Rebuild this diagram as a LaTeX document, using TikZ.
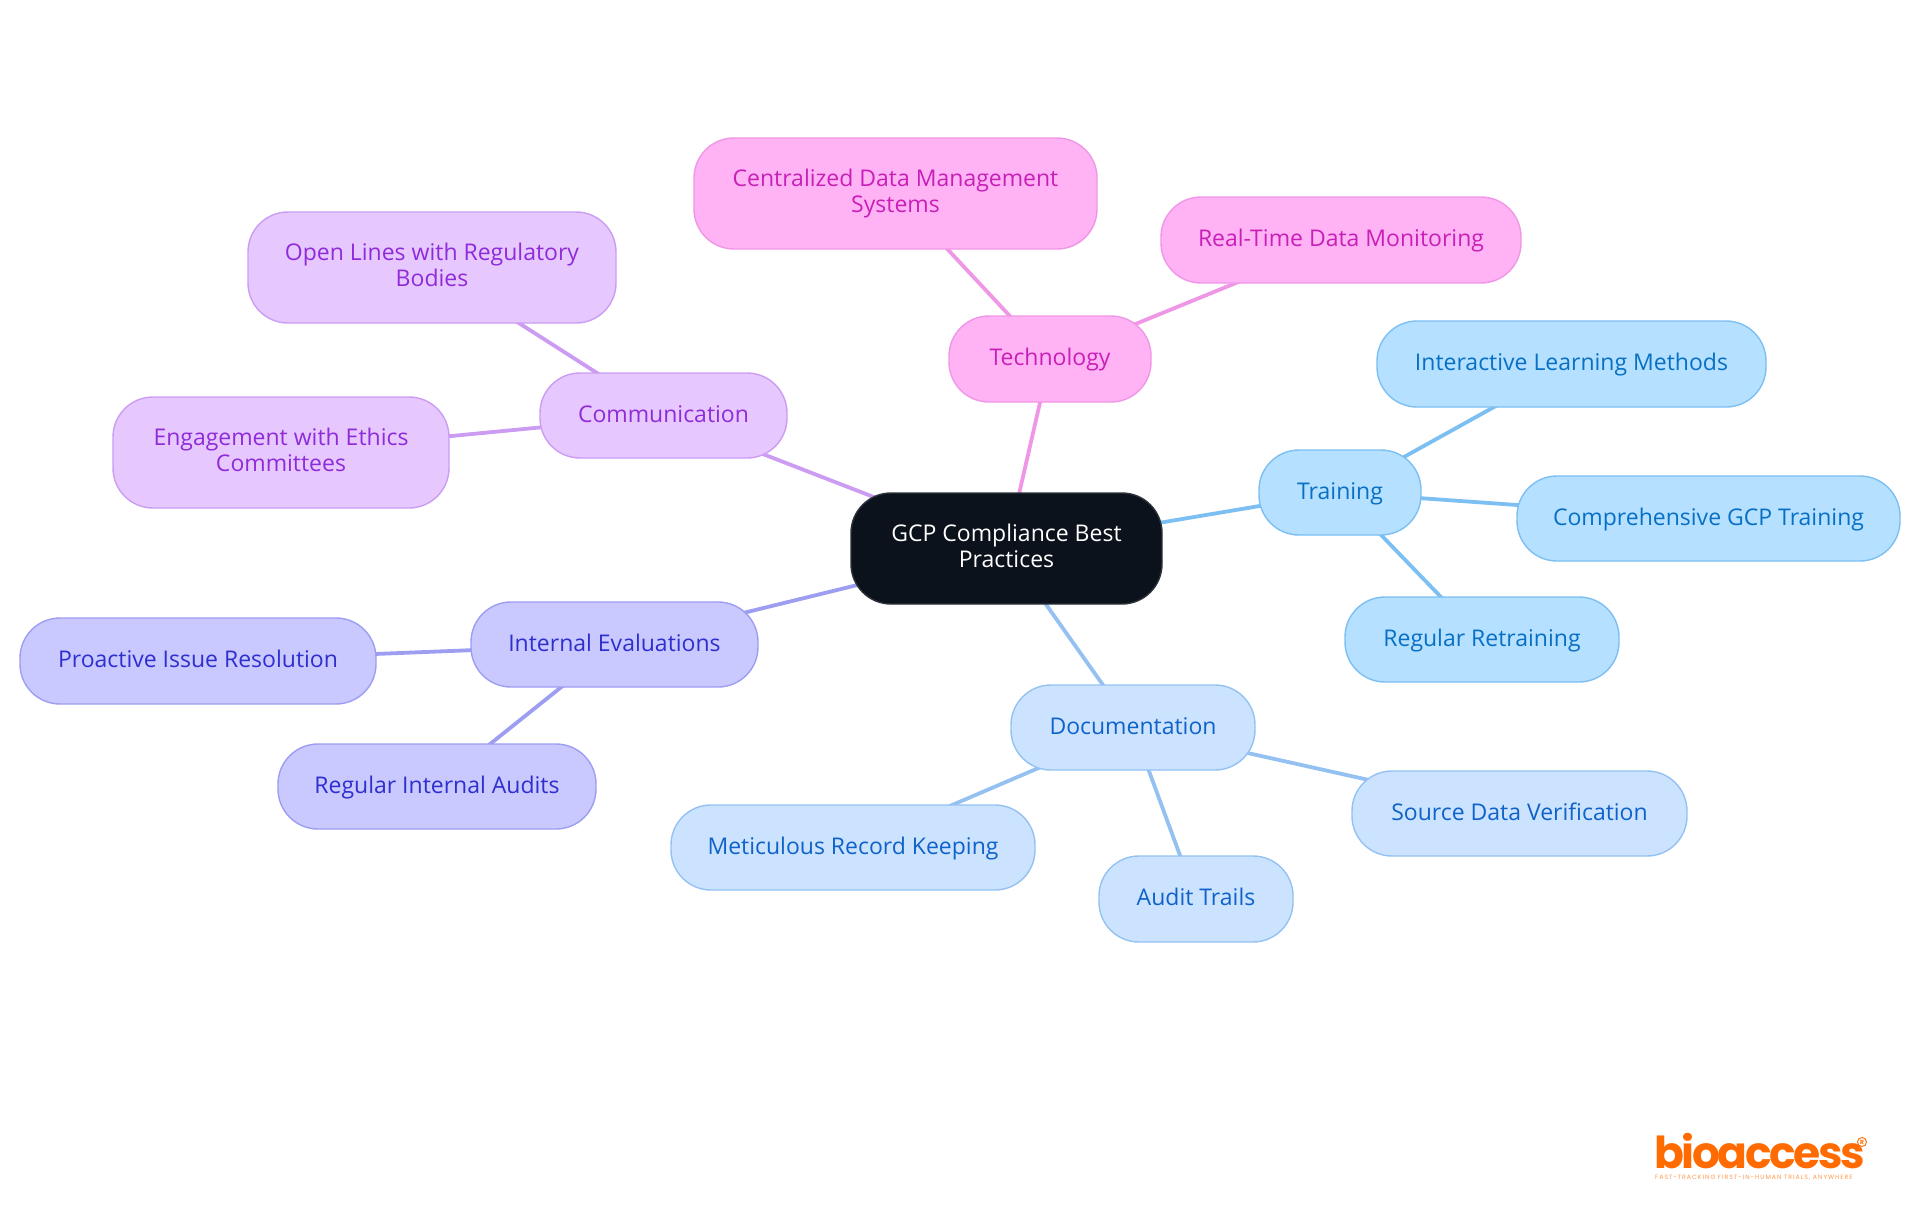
\documentclass[tikz,border=0pt]{standalone}
\usepackage{fontspec}
\usetikzlibrary{backgrounds}
\setmainfont{Open Sans}
\newfontfamily\logofont{Poppins}[UprightFont=* Bold,LetterSpace=-5.5]
\newfontfamily\regfont{Poppins}[UprightFont=* Bold]
\newfontfamily\tagfont{Poppins}[LetterSpace=16]
\definecolor{rootfill}{HTML}{0B121B}\definecolor{rootline}{HTML}{2D333B}
\definecolor{techfill}{HTML}{FFB3F5}\definecolor{techline}{HTML}{F096E6}\definecolor{techtext}{HTML}{C81FB8}
\definecolor{commfill}{HTML}{E6C8FF}\definecolor{commline}{HTML}{CB9CF2}\definecolor{commtext}{HTML}{8F2BD9}
\definecolor{evalfill}{HTML}{C9C9FF}\definecolor{evalline}{HTML}{9D9DF2}\definecolor{evaltext}{HTML}{2F2FCF}
\definecolor{docsfill}{HTML}{CCE3FF}\definecolor{docsline}{HTML}{94C1F2}\definecolor{docstext}{HTML}{0F62C9}
\definecolor{trainfill}{HTML}{B5E0FF}\definecolor{trainline}{HTML}{7CBFF2}\definecolor{traintext}{HTML}{0870C4}
\definecolor{logoorange}{HTML}{FF6B00}
\tikzset{
  mm/.style={rectangle,rounded corners=40,inner sep=0,outer sep=0,line width=1.4,
    font=\fontsize{23}{25.5}\selectfont},
  rootn/.style={mm,fill=rootfill,draw=rootline,text=white},
  technode/.style={mm,fill=techfill,draw=techline,text=techtext},
  commnode/.style={mm,fill=commfill,draw=commline,text=commtext},
  evalnode/.style={mm,fill=evalfill,draw=evalline,text=evaltext},
  docsnode/.style={mm,fill=docsfill,draw=docsline,text=docstext},
  trainnode/.style={mm,fill=trainfill,draw=trainline,text=traintext},
  edge/.style={line width=3.8},
}
\newcommand{\mmbox}[7]{\node[#1,minimum width={#5-#3},minimum height={#6-#4}] (#2) at ({(#3+#5)/2},{(#4+#6)/2}) {\raisebox{-6.5pt}[0pt][0pt]{#7}};}
\newcommand{\twol}[2]{\raisebox{-0.5pt}[0pt][0pt]{\begin{tabular}{@{}c@{}}#1\\#2\end{tabular}}}
\begin{document}
\begin{tikzpicture}[x=1pt,y=-1pt]
\useasboundingbox (0,0) rectangle (1920,1215);
\mmbox{rootn}{root}{851}{493}{1162}{604}{\twol{GCP Compliance Best}{Practices}}
\mmbox{technode}{tech}{949}{316}{1151}{402}{Technology}
\mmbox{technode}{cent}{694}{138}{1097}{249}{\twol{Centralized Data Management}{Systems}}
\mmbox{technode}{real}{1161}{197}{1521}{283}{Real-Time Data Monitoring}
\mmbox{commnode}{comm}{540}{373}{787}{458}{Communication}
\mmbox{commnode}{open}{248}{212}{616}{323}{\twol{Open Lines with Regulatory}{Bodies}}
\mmbox{commnode}{enga}{113}{397}{449}{508}{\twol{Engagement with Ethics}{Committees}}
\mmbox{evalnode}{inte}{471}{602}{758}{687}{Internal Evaluations}
\mmbox{evalnode}{proa}{20}{618}{376}{704}{Proactive Issue Resolution}
\mmbox{evalnode}{audi}{278}{744}{596}{829}{Regular Internal Audits}
\mmbox{trainnode}{trai}{1259}{450}{1421}{535}{Training}
\mmbox{trainnode}{inta}{1377}{321}{1766}{407}{Interactive Learning Methods}
\mmbox{trainnode}{comp}{1517}{476}{1900}{561}{Comprehensive GCP Training}
\mmbox{trainnode}{retr}{1345}{597}{1619}{682}{Regular Retraining}
\mmbox{docsnode}{docu}{1011}{685}{1255}{770}{Documentation}
\mmbox{docsnode}{sour}{1352}{771}{1687}{856}{Source Data Verification}
\mmbox{docsnode}{trail}{1099}{856}{1293}{942}{Audit Trails}
\mmbox{docsnode}{meti}{671}{805}{1035}{890}{Meticulous Record Keeping}
\begin{pgfonlayer}{background}
\draw[edge,techline] (root.center)--(tech.center) (tech.center)--(cent.center) (tech.center)--(real.center);
\draw[edge,commline] (root.center)--(comm.center) (comm.center)--(open.center) (comm.center)--(enga.center);
\draw[edge,evalline] (root.center)--(inte.center) (inte.center)--(proa.center) (inte.center)--(audi.center);
\draw[edge,trainline] (root.center)--(trai.center) (trai.center)--(inta.center) (trai.center)--(comp.center) (trai.center)--(retr.center);
\draw[edge,docsline] (root.center)--(docu.center) (docu.center)--(sour.center) (docu.center)--(trail.center) (docu.center)--(meti.center);
\end{pgfonlayer}
\node[anchor=base west,inner sep=0,text depth=0pt,text=logoorange,font=\fontsize{44}{44}\logofont] (logo) at (1654,1168) {bioaccess};
\node[anchor=base west,inner sep=0,text=logoorange!70,font=\fontsize{6.2}{7}\tagfont] (tag) at (1655,1179) {FAST-TRACKING FIRST-IN-HUMAN TRIALS, ANYWHERE};
\node[circle,draw=logoorange,line width=0.9,inner sep=0,minimum size=9,text=logoorange,font=\fontsize{6}{7}\regfont] (reg) at (1862,1142) {R};
\end{tikzpicture}
\end{document}
